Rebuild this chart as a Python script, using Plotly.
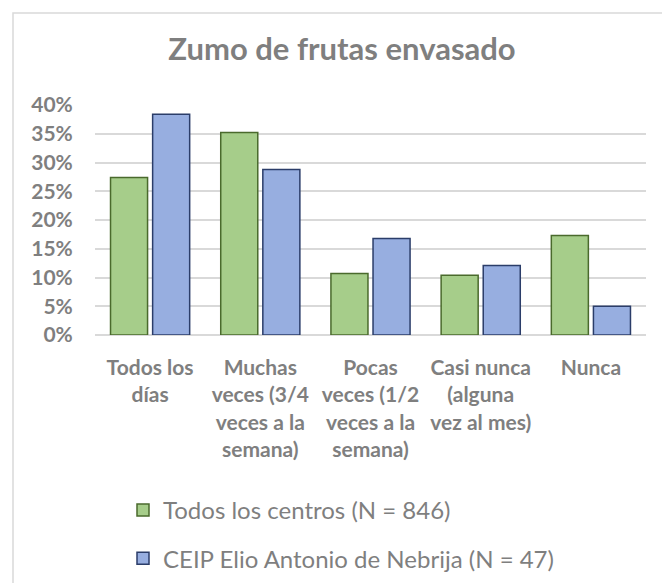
import plotly.graph_objects as go

categories = [
    "Todos los<br>días",
    "Muchas<br>veces (3/4<br>veces a la<br>semana)",
    "Pocas<br>veces (1/2<br>veces a la<br>semana)",
    "Casi nunca<br>(alguna<br>vez al mes)",
    "Nunca",
]
todos_centros = [0.274, 0.352, 0.107, 0.104, 0.173]
ceip_nebrija = [0.384, 0.288, 0.168, 0.121, 0.050]
series_names = ["Todos los centros (N = 846)", "CEIP Elio Antonio de Nebrija (N = 47)"]
y_ticks = [0, 0.05, 0.10, 0.15, 0.20, 0.25, 0.30, 0.35, 0.40]

W, H = 662, 583
ML, MR, MT, MB = 95, 16, 105, 248
PW, PH = W - ML - MR, H - MT - MB

TXT = "#7f7f7f"
FONT = "Lato"

fig = go.Figure()
fig.add_trace(go.Bar(
    x=categories, y=todos_centros, name=series_names[0], legendgroup="a",
    marker=dict(color="#a6cd8a", line=dict(color="#4a6a2c", width=1.5)),
))
fig.add_trace(go.Bar(
    x=categories, y=ceip_nebrija, name=series_names[1], legendgroup="b",
    marker=dict(color="#97aee0", line=dict(color="#2b3d69", width=1.5)),
))

def px_x(p):
    return (p - ML) / PW

def px_y(p):
    return (H - MB - p) / PH

fig.update_layout(
    width=W, height=H,
    margin=dict(l=ML, r=MR, t=MT, b=MB, autoexpand=False),
    paper_bgcolor="white", plot_bgcolor="white",
    barmode="group", bargap=0.236, bargroupgap=0.12,
    title=dict(text="<b>Zumo de frutas envasado</b>", x=px_x(342), xanchor="center",
               xref="paper", y=1 - 49 / H, yanchor="middle",
               font=dict(family=FONT, size=31, color=TXT)),
    font=dict(family=FONT, color=TXT),
    showlegend=True,
    legend=dict(orientation="v", x=px_x(123), xanchor="left", y=px_y(488), yanchor="top",
                xref="paper", yref="paper",
                font=dict(family=FONT, size=24, color=TXT),
                tracegroupgap=14, traceorder="grouped", bgcolor="rgba(0,0,0,0)"),
    shapes=[dict(type="rect", xref="paper", yref="paper",
                 x0=px_x(13), x1=px_x(700), y0=px_y(13), y1=px_y(620),
                 line=dict(color="#d9d9d9", width=1.5), fillcolor="rgba(0,0,0,0)",
                 layer="below")],
)
fig.update_yaxes(range=[0, 0.40], tickvals=y_ticks, tickformat=".0%",
                 showgrid=True, gridcolor="#d9d9d9", gridwidth=1.5,
                 zeroline=True, zerolinecolor="#d9d9d9", zerolinewidth=1.5,
                 showline=False, ticks="outside", ticklen=17, tickcolor="rgba(0,0,0,0)",
                 tickfont=dict(family=FONT, size=21, color=TXT, weight="bold"))
fig.update_xaxes(showline=False, ticks="", ticklabelstandoff=18,
                 tickfont=dict(family=FONT, size=21, color=TXT, weight="bold"), tickangle=0)

fig.write_html("out.html", config={"displayModeBar": False},
               post_script="document.body.style.margin='0';")
